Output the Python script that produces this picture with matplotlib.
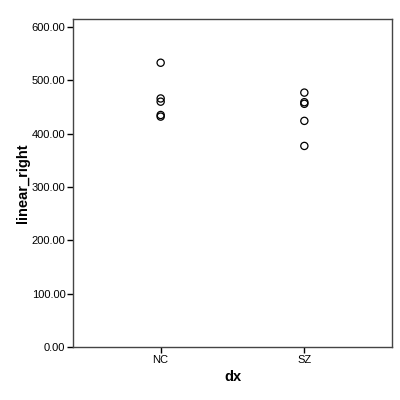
import matplotlib
matplotlib.use("Agg")
import matplotlib.pyplot as plt
from matplotlib.ticker import FormatStrFormatter

categories = ["NC", "SZ"]
nc_values = [533, 466, 460, 435, 432]
sz_values = [477, 459, 456, 424, 377]
series = [nc_values, sz_values]

plt.rcParams['font.family'] = ['Liberation Sans', 'DejaVu Sans']
fig = plt.figure(figsize=(4, 4), dpi=100)
ax = fig.add_axes([0.1825, 0.1325, 0.7975, 0.82])

for i, vals in enumerate(series):
    ax.scatter([i + 1] * len(vals), vals, s=27, facecolors='none',
               edgecolors='black', linewidths=0.9)

ax.set_xlim(0.39, 2.61)
ax.set_ylim(0, 615)
ax.set_xticks([1, 2])
ax.set_xticklabels(categories)
ax.set_yticks([0, 100, 200, 300, 400, 500, 600])
ax.yaxis.set_major_formatter(FormatStrFormatter('%.2f'))
ax.tick_params(labelsize=8, length=4.5, width=1, pad=1)
for s in ax.spines.values():
    s.set_linewidth(1)
    s.set_color('#444444')
ax.set_xlabel('dx', fontsize=10.5, fontweight='bold', labelpad=4)
ax.set_ylabel('linear_right', fontsize=10.5, fontweight='bold', labelpad=1)

fig.savefig('out.png', dpi=100)
